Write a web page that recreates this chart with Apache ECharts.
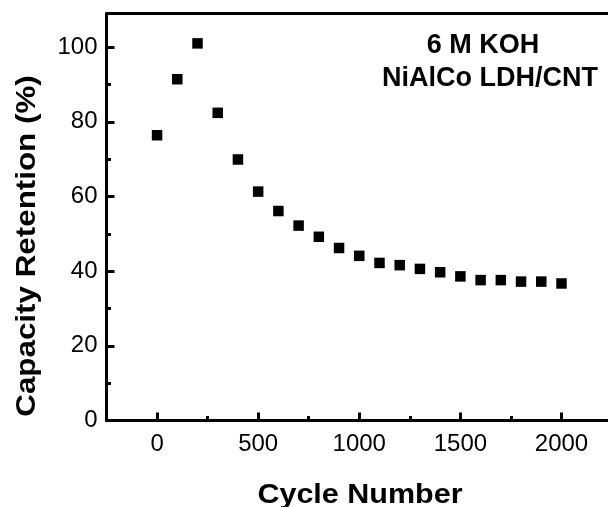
<!DOCTYPE html>
<html>
<head>
<meta charset="utf-8">
<script src="https://cdn.jsdelivr.net/npm/echarts@6/dist/echarts.min.js"></script>
<style>
  html, body { margin: 0; padding: 0; background: #fff; }
  #chart { width: 608px; height: 507px; }
</style>
</head>
<body>
<div id="chart"></div>
<script>
// Cycle number and capacity retention (%) of NiAlCo LDH/CNT in 6 M KOH
const cycles = [0, 100, 200, 300, 400, 500, 600, 700, 800, 900, 1000,
                1100, 1200, 1300, 1400, 1500, 1600, 1700, 1800, 1900, 2000];
const retention = [76.4, 91.4, 101.0, 82.4, 69.9, 61.3, 56.1, 52.2, 49.2, 46.2, 44.1,
                   42.2, 41.6, 40.6, 39.7, 38.6, 37.6, 37.6, 37.2, 37.2, 36.7];

// axis ranges and tick steps (the frame runs off the right edge)
const xMin = -250, xMax = 2230, xMinorStep = 250, xMajorStep = 500, xTickMin = 0, xTickMax = 2000;
const yMin = 0, yMax = 109, yMinorStep = 10, yMajorStep = 20, yTickMin = 0, yTickMax = 100;

const FONT = '"Liberation Sans", Arial, Helvetica, sans-serif';
const W = 608, H = 507;
const plot = { left: 106.5, right: 0, top: 13.5, bottom: 86.5 };
const plotW = W - plot.left - plot.right;
const plotH = H - plot.top - plot.bottom;

// sub-grids covering only a value span of the main plot, so interval ticks land on round values
function xSpanGrid(lo, hi) {
  return {
    show: false, top: plot.top, bottom: plot.bottom,
    left: plot.left + (lo - xMin) / (xMax - xMin) * plotW,
    right: plot.right + (xMax - hi) / (xMax - xMin) * plotW
  };
}
function ySpanGrid(lo, hi) {
  return {
    show: false, left: plot.left, right: plot.right,
    top: plot.top + (yMax - hi) / (yMax - yMin) * plotH,
    bottom: plot.bottom + (lo - yMin) / (yMax - yMin) * plotH
  };
}

const lineStyle = { color: '#000', width: 3 };
const tickStyle = { color: '#000', width: 3 };
const labelStyle = { fontFamily: FONT, fontSize: 24, color: '#000' };
const hiddenAxis = (gridIndex) => ({ gridIndex, type: 'value', show: false });
const tickAxis = (gridIndex, min, max, interval, position, length, label) => ({
  gridIndex, type: 'value', min, max, interval, position,
  axisLine: { show: false, onZero: false },
  axisTick: { show: true, inside: true, length, lineStyle: tickStyle },
  axisLabel: label ? Object.assign({ show: true, formatter: v => String(v) }, label) : { show: false },
  splitLine: { show: false }
});

const chart = echarts.init(document.getElementById('chart'), null, { renderer: 'canvas' });

chart.setOption({
  backgroundColor: '#ffffff',
  animation: false,
  grid: [
    Object.assign({ show: false }, plot),       // 0: data + frame lines
    xSpanGrid(xTickMin, xTickMax),              // 1: x major ticks + labels
    xSpanGrid(xMin, xTickMax),                  // 2: x minor ticks
    ySpanGrid(yTickMin, yTickMax),              // 3: y major ticks + labels
    ySpanGrid(yTickMin, yTickMax)               // 4: y minor ticks
  ],
  xAxis: [
    {
      gridIndex: 0, type: 'value', min: xMin, max: xMax, position: 'bottom',
      axisLine: { show: true, onZero: false, lineStyle },
      axisTick: { show: false }, axisLabel: { show: false }, splitLine: { show: false }
    },
    {
      gridIndex: 0, type: 'value', min: xMin, max: xMax, position: 'top',
      axisLine: { show: true, onZero: false, lineStyle },
      axisTick: { show: false }, axisLabel: { show: false }, splitLine: { show: false }
    },
    tickAxis(1, xTickMin, xTickMax, xMajorStep, 'bottom', 8, Object.assign({ margin: 12 }, labelStyle)),
    tickAxis(2, xMin, xTickMax, xMinorStep, 'bottom', 4.5),
    hiddenAxis(3),
    hiddenAxis(4)
  ],
  yAxis: [
    {
      gridIndex: 0, type: 'value', min: yMin, max: yMax, position: 'left',
      axisLine: { show: true, onZero: false, lineStyle },
      axisTick: { show: false }, axisLabel: { show: false }, splitLine: { show: false }
    },
    hiddenAxis(1),
    hiddenAxis(2),
    tickAxis(3, yTickMin, yTickMax, yMajorStep, 'left', 8, Object.assign({ margin: 9 }, labelStyle)),
    tickAxis(4, yTickMin, yTickMax, yMinorStep, 'left', 4.5)
  ],
  graphic: [
    {
      type: 'text', x: 27, y: 246, rotation: Math.PI / 2, scaleX: 1.12,
      style: { text: 'Capacity Retention (%)', fontFamily: FONT, fontSize: 28,
               fontWeight: 'bold', fill: '#000', align: 'center', verticalAlign: 'middle' }
    },
    {
      type: 'text', x: 360, y: 495, scaleX: 1.09,
      style: { text: 'Cycle Number', fontFamily: FONT, fontSize: 28,
               fontWeight: 'bold', fill: '#000', align: 'center', verticalAlign: 'middle' }
    },
    {
      type: 'text', x: 483, y: 46,
      style: { text: '6 M KOH', fontFamily: FONT, fontSize: 27,
               fontWeight: 'bold', fill: '#000', align: 'center', verticalAlign: 'middle' }
    },
    {
      type: 'text', x: 490, y: 79,
      style: { text: 'NiAlCo LDH/CNT', fontFamily: FONT, fontSize: 27,
               fontWeight: 'bold', fill: '#000', align: 'center', verticalAlign: 'middle' }
    }
  ],
  series: [
    {
      type: 'scatter', xAxisIndex: 0, yAxisIndex: 0,
      data: cycles.map((c, i) => [c, retention[i]]),
      symbol: 'rect', symbolSize: 10.5,
      itemStyle: { color: '#000', opacity: 1 }
    }
  ]
});
</script>
</body>
</html>
